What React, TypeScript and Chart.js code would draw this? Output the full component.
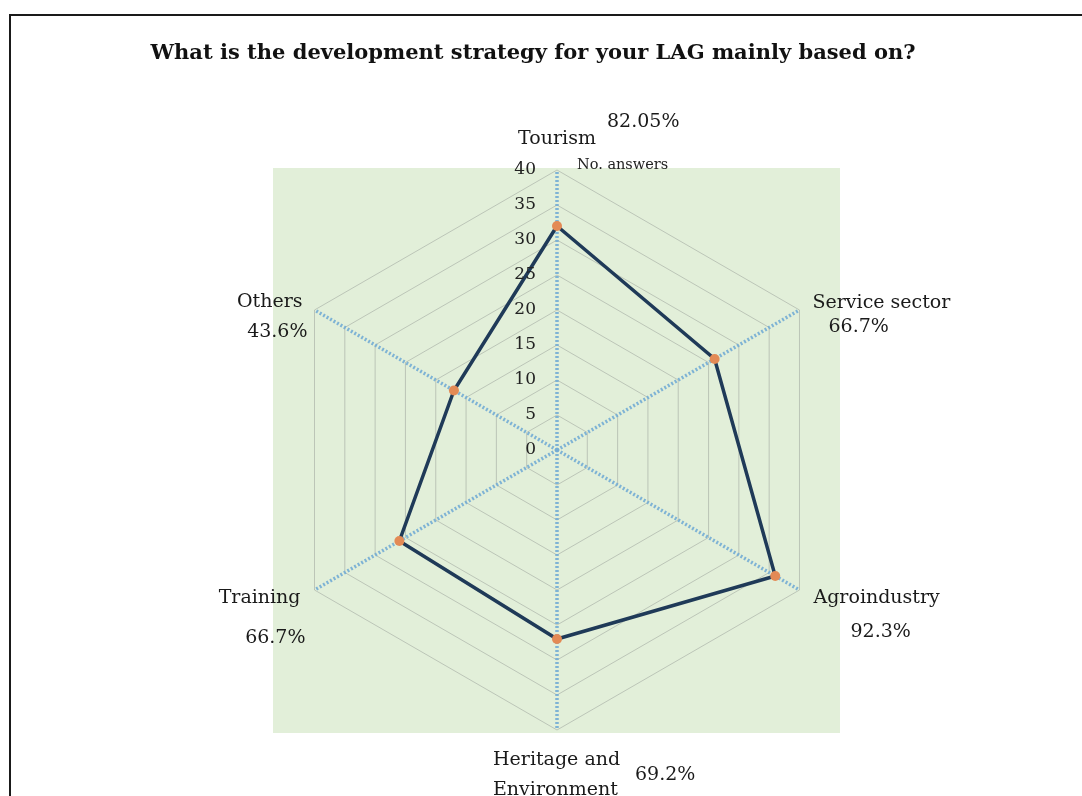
import React, { useEffect, useRef } from 'react';
import { Chart, registerables } from 'chart.js';

Chart.register(...registerables);

const titleText = 'What is the development strategy for your LAG mainly based on?';
const axisTitle = 'No. answers';
const categories = ['Tourism', 'Service sector', 'Agroindustry', 'Heritage and Environment', 'Training', 'Others'];
const answers = [32, 26, 36, 27, 26, 17];
const percentLabels = ['82.05%', '66.7%', '92.3%', '69.2%', '66.7%', '43.6%'];
const tickValues = [0, 5, 10, 15, 20, 25, 30, 35, 40];

// label placement relative to the end of each spoke (styling only)
const labelLayout = [
  { name: { dx: 0, dy: -31, align: 'center' }, pct: { dx: 50, dy: -48, align: 'left' } },
  { name: { dx: 13, dy: -7, align: 'left' }, pct: { dx: 29, dy: 17, align: 'left' } },
  { name: { dx: 14, dy: 8, align: 'left' }, pct: { dx: 51, dy: 42, align: 'left' } },
  { name: { dx: -64, dy: 30, align: 'left', lh: 30 }, pct: { dx: 78, dy: 45, align: 'left' } },
  { name: { dx: -14, dy: 8, align: 'right' }, pct: { dx: -9, dy: 48, align: 'right' } },
  { name: { dx: -12, dy: -8, align: 'right' }, pct: { dx: -7, dy: 22, align: 'right' } },
];

const FONT = '"DejaVu Serif", "Liberation Serif", serif';

const decorPlugin = {
  id: 'decor',
  beforeDraw(chart: any) {
    const { ctx } = chart;
    const r = chart.scales.r;
    const R = r.drawingArea;
    ctx.save();
    ctx.fillStyle = '#ffffff';
    ctx.fillRect(0, 0, chart.width, chart.height);
    ctx.fillStyle = '#e2efd9';
    ctx.fillRect(r.xCenter - R - 4, r.yCenter - R - 2, 2 * R + 7, 2 * R + 5);
    ctx.restore();
  },
  afterDraw(chart: any) {
    const { ctx } = chart;
    const r = chart.scales.r;
    ctx.save();
    // frame
    ctx.strokeStyle = '#1a1a1a';
    ctx.lineWidth = 2;
    ctx.beginPath();
    ctx.moveTo(10, chart.height + 10);
    ctx.lineTo(10, 15);
    ctx.lineTo(chart.width + 10, 15);
    ctx.stroke();

    // title
    ctx.fillStyle = '#111';
    ctx.textBaseline = 'middle';
    ctx.textAlign = 'center';
    ctx.font = 'bold 21px ' + FONT;
    ctx.fillText(titleText, 533, 54);

    // tick labels
    ctx.font = '17px ' + FONT;
    ctx.textAlign = 'right';
    ctx.fillStyle = '#222';
    tickValues.forEach((v) => {
      const d = r.getDistanceFromCenterForValue(v);
      ctx.fillText(String(v), r.xCenter - 21, r.yCenter - d);
    });

    // axis title
    ctx.font = '14.5px ' + FONT;
    ctx.textAlign = 'left';
    ctx.fillText(axisTitle, r.xCenter + 20, r.yCenter - r.drawingArea - 5);

    // point labels
    ctx.font = '19px ' + FONT;
    ctx.fillStyle = '#1a1a1a';
    categories.forEach((c, i) => {
      const p = r.getPointPosition(i, r.drawingArea);
      const L = labelLayout[i];
      ctx.textAlign = L.name.align as CanvasTextAlign;
      const words = i === 3 ? ['Heritage and', 'Environment'] : [c];
      words.forEach((w, k) => {
        ctx.fillText(w, p.x + L.name.dx, p.y + L.name.dy + k * ((L.name as any).lh || 0));
      });
      ctx.textAlign = L.pct.align as CanvasTextAlign;
      ctx.fillText(percentLabels[i], p.x + L.pct.dx, p.y + L.pct.dy);
    });
    ctx.restore();
  },
};

export default function App() {
  const ref = useRef<HTMLCanvasElement>(null);
  useEffect(() => {
    if (!ref.current) return;
    const chart = new Chart(ref.current, {
      type: 'radar',
      data: {
        labels: categories,
        datasets: [
          {
            label: axisTitle,
            data: answers,
            fill: false,
            borderColor: '#1f3a58',
            borderWidth: 3.5,
            pointBackgroundColor: '#e38a55',
            pointBorderColor: '#e38a55',
            pointBorderWidth: 0,
            pointRadius: 5,
            tension: 0,
          },
        ],
      },
      options: {
        responsive: false,
        animation: false,
        layout: { padding: { left: 277, right: 245, top: 170, bottom: 66 } },
        plugins: {
          legend: { display: false },
          tooltip: { enabled: false },
          title: { display: false },
        },
        scales: {
          r: {
            min: 0,
            max: 40,
            beginAtZero: true,
            ticks: { display: false, stepSize: 5 },
            pointLabels: { display: false },
            grid: { color: 'rgba(150,155,150,0.5)', lineWidth: 1, circular: false },
            angleLines: {
              color: 'rgba(115,172,212,0.9)',
              lineWidth: 3.5,
              borderDash: [2, 2],
            },
          },
        },
      },
      plugins: [decorPlugin],
    });
    return () => chart.destroy();
  }, []);
  return (
    <div style={{ position: 'fixed', left: 0, top: 0, width: 1082, height: 796 }}>
      <canvas ref={ref} width={1082} height={796} />
    </div>
  );
}
